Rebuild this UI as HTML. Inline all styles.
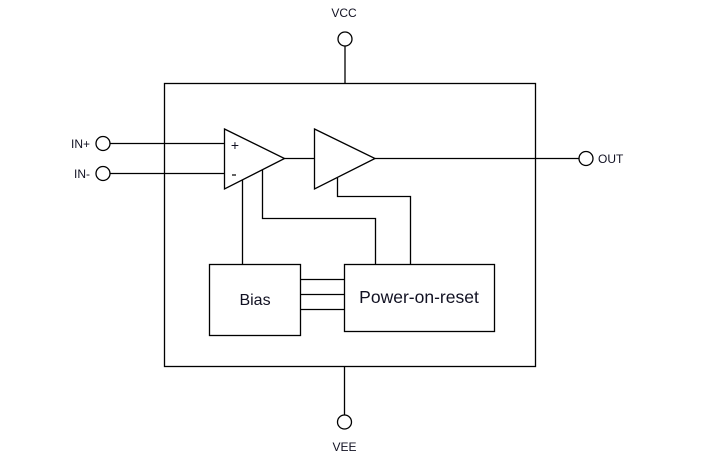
<!DOCTYPE html>
<html><head><meta charset="utf-8"><style>
html,body{margin:0;padding:0;background:#fff;}
svg{display:block;}
text{font-family:"Liberation Sans",sans-serif;fill:#111122;}
</style></head><body>
<svg width="703" height="455" viewBox="0 0 703 455" xmlns="http://www.w3.org/2000/svg">
<g fill="none" stroke="#000" stroke-width="1.3">
<rect x="164.5" y="83.5" width="371" height="283"/>
<line x1="345" y1="46" x2="345" y2="83"/>
<circle cx="345" cy="39" r="7" fill="#fff"/>
<line x1="344.5" y1="367" x2="344.5" y2="415"/>
<circle cx="344.5" cy="422" r="7" fill="#fff"/>
<line x1="110" y1="143.5" x2="224" y2="143.5"/>
<line x1="110" y1="173.5" x2="224" y2="173.5"/>
<circle cx="103" cy="143.5" r="7" fill="#fff"/>
<circle cx="103" cy="173.5" r="7" fill="#fff"/>
<polygon points="224.5,129 284.5,158.5 224.5,189" fill="#fff"/>
<polygon points="314.5,129 375,158.5 314.5,189" fill="#fff"/>
<line x1="284.5" y1="158.5" x2="314.5" y2="158.5"/>
<line x1="375" y1="158.5" x2="579" y2="158.5"/>
<circle cx="586" cy="158.5" r="7" fill="#fff"/>
<polyline points="337.5,178 337.5,196.5 410.5,196.5 410.5,264"/>
<polyline points="262.5,170 262.5,218.5 375.5,218.5 375.5,264"/>
<line x1="242.5" y1="180" x2="242.5" y2="264"/>
<rect x="209.5" y="264.5" width="91" height="71"/>
<rect x="344.5" y="264.5" width="150" height="67"/>
<line x1="300.5" y1="279.5" x2="344.5" y2="279.5"/>
<line x1="300.5" y1="294.5" x2="344.5" y2="294.5"/>
<line x1="300.5" y1="309.5" x2="344.5" y2="309.5"/>
</g>
<text x="235" y="150" font-size="14" text-anchor="middle">+</text>
<line x1="232" y1="175" x2="236" y2="175" stroke="#111" stroke-width="1.3"/>
<text x="344" y="17" font-size="12" text-anchor="middle">VCC</text>
<text x="344.5" y="451" font-size="12" text-anchor="middle">VEE</text>
<text x="90" y="148" font-size="12" text-anchor="end">IN+</text>
<text x="90" y="178" font-size="12" text-anchor="end">IN-</text>
<text x="598" y="163" font-size="12">OUT</text>
<text x="255" y="305" font-size="16" text-anchor="middle">Bias</text>
<text x="419" y="303" font-size="17.5" text-anchor="middle">Power-on-reset</text>
</svg>
</body></html>
